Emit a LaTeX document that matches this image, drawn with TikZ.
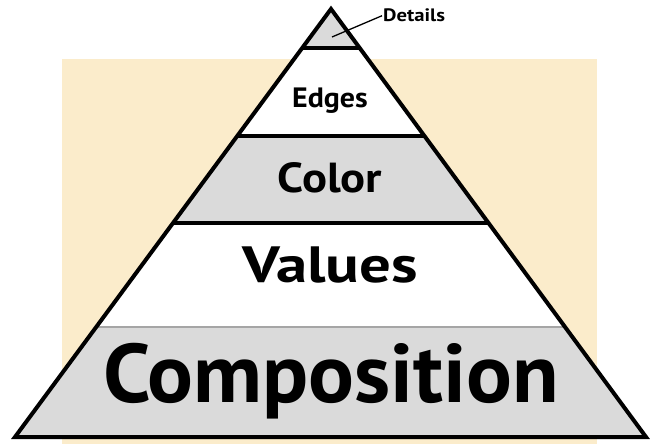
\documentclass[tikz,border=0pt]{standalone}
\usepackage{fontspec}
\setmainfont{PT Sans}
\usetikzlibrary{calc}
\definecolor{beige}{RGB}{251,236,203}
\definecolor{bandgray}{RGB}{218,218,218}
\definecolor{divgray}{RGB}{165,165,165}
\tikzset{
  lbl/.style={anchor=base, inner sep=0pt},
  divider/.style={line width=3.2pt, black},
}
\newcommand{\lblfont}[1]{\bfseries\fontsize{#1}{#1}\selectfont}
\begin{document}
\begin{tikzpicture}[x=1pt,y=-1pt]
\useasboundingbox (0,0) rectangle (651,444);
\fill[beige] (62,59) rectangle (597,444);
\coordinate (apex) at (331,9);
\coordinate (bl) at (15,437);
\coordinate (br) at (646,437);
% band boundaries
\foreach \n/\t in {a/0.0911,b/0.2967,c/0.5,d/0.743}{
  \coordinate (L\n) at ($(apex)!\t!(bl)$);
  \coordinate (R\n) at ($(apex)!\t!(br)$);
}
\fill[bandgray] (apex) -- (Ra) -- (La) -- cycle;
\fill[white] (La) -- (Ra) -- (Rb) -- (Lb) -- cycle;
\fill[bandgray] (Lb) -- (Rb) -- (Rc) -- (Lc) -- cycle;
\fill[white] (Lc) -- (Rc) -- (Rd) -- (Ld) -- cycle;
\fill[bandgray] (Ld) -- (Rd) -- (br) -- (bl) -- cycle;
\draw[divider] (La) -- (Ra);
\draw[divider] (Lb) -- (Rb);
\draw[divider] (Lc) -- (Rc);
\draw[line width=2.5pt, divgray] (Ld) -- (Rd);
\draw[line width=4pt, line join=miter] (apex) -- (br) -- (bl) -- cycle;
% labels
\node[lbl, font=\lblfont{28}] (edges) at (330,107) {\scalebox{1.07}[1]{Edges}};
\node[lbl, font=\lblfont{42}] (color) at (330,192) {\scalebox{1.11}[1]{Color}};
\node[lbl, font=\lblfont{51}] (values) at (330,282) {\scalebox{1.23}[1]{Values}};
\node[lbl, font=\lblfont{83}] (comp) at (331,402) {\scalebox{1.03}[1]{Composition}};
\node[anchor=base west, inner sep=0pt, font=\lblfont{18}] (details) at (383,22) {\scalebox{1.15}[1]{Details}};
\coordinate (dpt) at (332,37);
\draw[line width=1.3pt] ([xshift=-1pt]details.west) -- (dpt);
\end{tikzpicture}
\end{document}
